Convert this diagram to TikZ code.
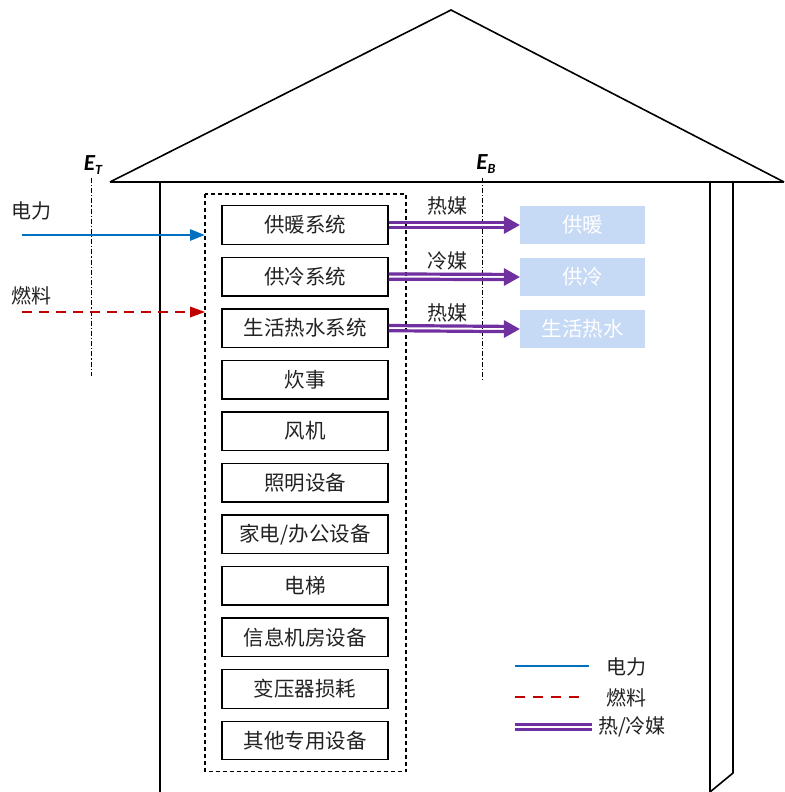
\documentclass[tikz,border=0pt]{standalone}
\usepackage{fontspec}
\newfontfamily\cjk{Noto Sans CJK SC}
\newfontfamily\lat{Carlito}
\usetikzlibrary{arrows.meta}
\definecolor{elec}{RGB}{0,112,192}
\definecolor{fuel}{RGB}{192,0,0}
\definecolor{heat}{RGB}{112,48,160}
\definecolor{svc}{RGB}{198,217,245}
\definecolor{txt}{RGB}{34,34,34}
\begin{document}
\begin{tikzpicture}[x=1pt,y=-1pt,
  wall/.style={line width=1.6pt},
  sysbox/.style={draw,line width=1.4pt,minimum width=166pt,minimum height=38.5pt,inner sep=0pt,font=\cjk\fontsize{20.5}{20.5}\selectfont,text=txt},
  svcbox/.style={fill=svc,minimum width=125pt,minimum height=38.5pt,inner sep=0pt,font=\cjk\fontsize{20.5}{20.5}\selectfont,text=white},
  lbl/.style={font=\cjk\fontsize{20}{20}\selectfont,text=txt,inner sep=0pt},
  bound/.style={line width=1pt,dash pattern=on 5pt off 2pt on 1.2pt off 2pt},
  elecline/.style={elec,line width=2.8pt},
  fuelline/.style={fuel,line width=2.8pt,dash pattern=on 10pt off 7pt},
  heatline/.style={heat,line width=3.2pt},
  etip/.style={-{Triangle[length=15pt,width=11pt]}}
]
\useasboundingbox (0,0) rectangle (784,792);
% roof and walls
\draw[wall,line join=miter] (110,182) -- (451,10) -- (784,182);
\draw[wall] (110,182) -- (784,182);
\draw[wall] (160,182) -- (160,792);
\draw[wall] (710,182) -- (710,792);
\draw[wall,line join=round] (733,182) -- (733,773) -- (710,792);
% dashed envelope
\draw[line width=1.3pt,dash pattern=on 4pt off 3pt] (205,194) rectangle (406,771.5);
% system boxes
\foreach \n/\t [count=\i from 0] in {b1/{供暖系统},b2/{供冷系统},b3/{生活热水系统},b4/{炊事},b5/{风机},b6/{照明设备},b7/{家电{/}办公设备},b8/{电梯},b9/{信息机房设备},b10/{变压器损耗},b11/{其他专用设备}}{
  \node[sysbox] (\n) at (305,{225+51.55*\i}) {\t};
}
% service boxes
\node[svcbox] (s1) at (582.5,225) {供暖};
\node[svcbox] (s2) at (582.5,277) {供冷};
\node[svcbox] (s3) at (582.5,329) {生活热水};
% boundaries
\node[font=\lat\bfseries\itshape\fontsize{23}{23}\selectfont,inner sep=0pt] (et) at (93,165) {E\raisebox{-0.3ex}{\fontsize{14}{14}\selectfont T}};
\node[font=\lat\bfseries\itshape\fontsize{23}{23}\selectfont,inner sep=0pt] (eb) at (486,164) {E\raisebox{-0.3ex}{\fontsize{14}{14}\selectfont B}};
\coordinate (et1) at (91,178); \coordinate (et2) at (91,376);
\coordinate (eb1) at (482,178); \coordinate (eb2) at (482,381);
\draw[bound] (et1) -- (et2);
\draw[bound] (eb1) -- (eb2);
% inputs
\node[lbl] (le) at (32,211) {电力};
\node[lbl] (lf) at (32,296) {燃料};
\coordinate (ein) at (22,235); \coordinate (eout) at (205,235);
\coordinate (fin) at (22,312); \coordinate (fout) at (205,312);
\draw[elecline,etip] (ein) -- (eout);
\draw[fuelline] (fin) -- ([xshift=-15pt]fout);
\fill[fuel] (fout) -- ++(-15,-5.5) -- ++(0,11) -- cycle;
% outputs
\foreach \b/\s in {b1/s1,b2/s2,b3/s3}{
  \draw[heatline] ([yshift=-2.6pt]\b.east) -- ([xshift=-14pt,yshift=-2.6pt]\s.west);
  \draw[heatline] ([yshift=2.6pt]\b.east) -- ([xshift=-14pt,yshift=2.6pt]\s.west);
  \fill[heat] (\s.west) -- ++(-16,-9) -- ++(0,18) -- cycle;
}
\node[lbl] (m1) at (447,206) {热媒};
\node[lbl] (m2) at (447,261) {冷媒};
\node[lbl] (m3) at (447,313) {热媒};
% legend
\coordinate (la1) at (515,666); \coordinate (la2) at (589,666);
\coordinate (lb1) at (515,697); \coordinate (lb2) at (584,697);
\coordinate (lc1) at (515,727); \coordinate (lc2) at (592,727);
\draw[elecline] (la1) -- (la2);
\draw[fuelline,dash pattern=on 10pt off 8pt] (lb1) -- (lb2);
\draw[heatline] ([yshift=-2.6pt]lc1) -- ([yshift=-2.6pt]lc2);
\draw[heatline] ([yshift=2.6pt]lc1) -- ([yshift=2.6pt]lc2);
\node[lbl] (t1) at (626,667) {电力};
\node[lbl] (t2) at (626,698) {燃料};
\node[lbl] (t3) at (632,727) {热/冷媒};
\end{tikzpicture}
\end{document}
